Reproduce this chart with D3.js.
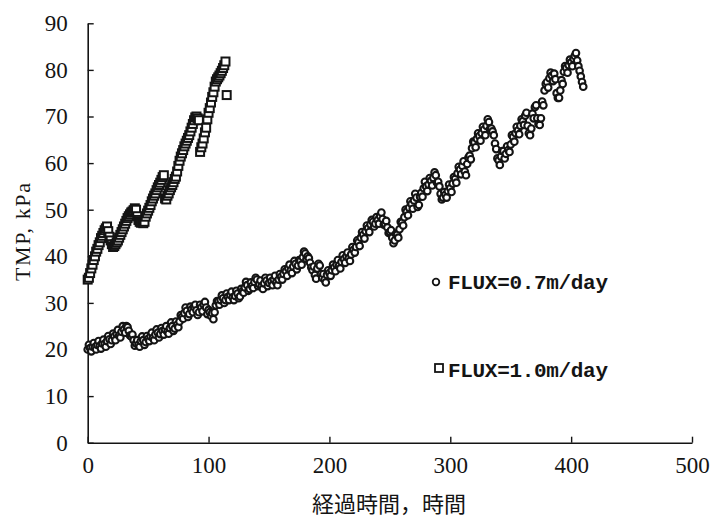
<!DOCTYPE html>
<html>
<head>
<meta charset="utf-8">
<script src="https://cdn.jsdelivr.net/npm/d3@7"></script>
<style>
  body { margin: 0; background: #fff; }
  svg { display: block; }
</style>
</head>
<body>
<div id="chart"></div>
<script>
// TMP (kPa), FLUX=0.7m/day
// even hours: t = 0, 2, 4 ... 410
const circleEvenTMP = [
  20.0, 20.3, 20.6, 20.5, 21.0, 20.8, 21.3, 21.2, 21.8, 22.2,
  22.0, 22.8, 23.3, 23.0, 23.8, 24.3, 25.0, 24.0, 22.8, 22.0,
  21.3, 21.0, 21.8, 22.0, 21.6, 22.3, 22.8, 22.5, 23.2, 23.6,
  23.3, 24.0, 24.3, 23.8, 24.6, 25.0, 24.5, 25.3, 26.0, 27.0,
  27.8, 28.3, 27.6, 28.6, 29.2, 28.4, 28.0, 29.0, 29.6, 29.0,
  28.5, 27.2, 26.5, 29.5, 30.3, 30.6, 31.0, 30.6, 31.3, 31.7,
  31.2, 31.5, 32.0, 31.4, 32.5, 33.3, 33.8, 33.0, 33.6, 34.5,
  35.0, 34.0, 33.6, 34.2, 34.8, 34.3, 34.6, 35.0, 34.4, 35.0,
  35.6, 36.2, 36.8, 37.4, 37.0, 37.8, 38.4, 38.0, 39.0, 39.8,
  40.6, 40.0, 38.6, 37.0, 36.0, 37.4, 38.0, 35.4, 35.0, 36.0,
  36.4, 37.0, 37.6, 38.2, 38.0, 38.8, 39.4, 40.0, 39.6, 40.4,
  41.4, 42.0, 43.0, 44.0, 44.6, 45.4, 46.0, 46.8, 47.4, 47.0,
  47.8, 48.6, 48.0, 47.0, 46.2, 45.2, 44.0, 43.4, 44.6, 45.8,
  47.2, 48.4, 49.6, 50.4, 51.2, 52.0, 52.6, 51.0, 53.6, 54.6,
  55.0, 55.4, 56.2, 56.8, 57.4, 56.0, 53.4, 52.6, 53.2, 54.0,
  54.6, 55.6, 56.6, 57.8, 58.6, 59.4, 58.2, 59.8, 61.6, 63.2,
  64.4, 65.2, 65.8, 66.4, 67.2, 68.0, 68.8, 67.4, 66.0, 63.0,
  60.6, 61.4, 62.6, 62.0, 62.8, 64.0, 65.6, 66.4, 67.0, 68.0,
  69.0, 70.2, 68.0, 66.0, 70.6, 72.0, 69.6, 68.2, 73.2, 75.6,
  77.4, 78.2, 78.8, 79.2, 75.0, 74.0, 77.8, 79.6, 80.4, 81.0,
  81.6, 82.4, 83.6, 80.8, 78.6, 76.4
];
// odd hours: t = 1, 3, 5 ... 409
const circleOddTMP = [
  21.0, 19.6, 21.4, 20.0, 21.8, 20.2, 22.1, 20.6, 22.9, 21.2,
  23.4, 22.0, 24.2, 22.6, 25.0, 23.6, 24.8, 23.0, 23.2, 20.8,
  22.0, 20.6, 22.8, 21.0, 22.9, 21.8, 23.6, 22.0, 24.3, 22.6,
  24.6, 23.2, 25.0, 23.4, 25.8, 24.0, 26.0, 24.8, 27.4, 26.6,
  29.0, 27.0, 29.2, 28.0, 29.6, 27.4, 29.6, 28.2, 30.2, 27.6,
  28.0, 27.8, 28.0, 30.4, 29.6, 31.6, 30.0, 32.0, 30.6, 32.4,
  30.6, 32.6, 31.0, 33.0, 32.2, 34.5, 32.6, 34.4, 33.2, 35.4,
  33.6, 34.8, 33.0, 35.4, 33.6, 35.4, 33.8, 35.8, 33.8, 36.2,
  35.0, 37.2, 35.8, 38.2, 36.4, 39.0, 37.2, 39.2, 38.2, 41.0,
  39.4, 39.6, 37.6, 37.8, 35.2, 38.4, 36.2, 36.2, 34.4, 37.0,
  35.8, 38.2, 36.8, 39.2, 37.4, 40.2, 38.6, 40.8, 39.0, 42.0,
  40.8, 43.4, 42.2, 45.2, 43.8, 46.6, 45.2, 47.8, 46.4, 48.4,
  47.0, 49.4, 46.8, 47.6, 45.0, 45.6, 42.8, 44.8, 44.0, 47.4,
  46.6, 50.0, 48.8, 51.8, 50.2, 53.4, 50.6, 52.8, 52.8, 56.0,
  54.0, 56.8, 55.2, 58.0, 55.8, 55.0, 52.2, 53.8, 52.6, 55.4,
  53.8, 57.0, 55.8, 59.2, 57.6, 60.4, 57.4, 61.2, 60.8, 64.6,
  63.4, 66.4, 64.8, 67.8, 66.0, 69.4, 67.4, 66.8, 64.2, 61.0,
  59.6, 62.6, 61.0, 63.6, 62.4, 66.0, 64.6, 67.8, 66.2, 69.4,
  68.2, 70.8, 66.4, 67.4, 69.6, 72.4, 68.4, 69.6, 72.4, 77.0,
  76.2, 79.4, 77.6, 78.0, 74.0, 75.6, 77.0, 80.8, 79.4, 82.2,
  80.8, 83.0, 82.0, 79.8, 77.4
];

// FLUX=1.0m/day, one reading every hour, t = 0 ... 115
const squareTMP = [
  35.0, 35.4, 36.4, 37.4, 38.2, 39.2, 40.0, 41.0, 41.6, 42.4,
  43.0, 43.9, 44.4, 45.0, 45.6, 46.0, 46.4, 45.4, 44.2, 43.4,
  42.6, 42.0, 42.2, 42.6, 43.0, 43.4, 44.0, 44.6, 45.2, 45.8,
  46.4, 47.0, 47.6, 48.2, 48.6, 49.0, 49.4, 49.6, 49.9, 50.3,
  50.0, 48.6, 47.8, 47.4, 47.2, 47.3, 47.1, 47.4, 48.5, 49.2,
  49.8, 50.4, 51.0, 51.8, 52.4, 53.0, 53.5, 54.2, 54.8, 55.3,
  55.8, 56.4, 57.0, 57.4, 52.4, 52.2, 53.0, 53.5, 54.2, 54.8,
  55.3, 55.9, 56.6, 57.1, 58.2, 59.4, 60.5, 61.4, 62.1, 62.8,
  63.6, 64.2, 64.8, 65.4, 66.0, 66.8, 67.6, 68.4, 69.2, 69.8,
  70.0, 69.6, 69.2, 62.4, 63.4, 64.2, 65.3, 66.6, 67.6, 69.4,
  70.8, 71.8, 73.0, 74.2, 75.2, 76.4, 77.5, 78.0, 78.4, 78.8,
  79.3, 79.8, 80.4, 81.0, 81.8, 74.6
];

const xTicks = [0, 100, 200, 300, 400, 500];
const yTicks = [0, 10, 20, 30, 40, 50, 60, 70, 80, 90];
const legendLabels = ['FLUX=0.7m/day', 'FLUX=1.0m/day'];

const width = 721, height = 520;
const ink = '#141414';

let x = d3.scaleLinear().domain([0, 500]).range([87.7, 692]);
let y = d3.scaleLinear().domain([0, 90]).range([442.7, 23.3]);

let svg = d3.select('#chart').append('svg')
    .attr('width', width)
    .attr('height', height);

let circles = circleEvenTMP.map((v, i) => ({ t: i * 2, v: v }))
    .concat(circleOddTMP.map((v, i) => ({ t: i * 2 + 1, v: v })));
circles.sort((a, b) => a.t - b.t);
const squares = squareTMP.map((v, i) => ({ t: i, v: v }));

// axes, ticks pointing inward
let xAxis = svg.append('g')
    .attr('transform', `translate(0,${y(0)})`)
    .call(d3.axisBottom(x).tickValues(xTicks).tickSizeInner(-6).tickSizeOuter(0).tickPadding(14));
let yAxis = svg.append('g')
    .attr('transform', `translate(${x(0)},0)`)
    .call(d3.axisLeft(y).tickValues(yTicks).tickSizeInner(-6).tickSizeOuter(0).tickPadding(20));

svg.selectAll('.domain').attr('stroke', ink).attr('stroke-width', 1.6);
svg.selectAll('.tick line').attr('stroke', ink).attr('stroke-width', 1.4);
svg.selectAll('.tick text')
    .attr('fill', ink)
    .style('font-family', '"Liberation Serif", "DejaVu Serif", serif')
    .style('font-size', '23px');
xAxis.selectAll('.tick text').attr('dy', '0.71em');

// data
svg.append('g').selectAll('circle')
    .data(circles)
    .enter()
    .append('circle')
    .attr('cx', d => x(d.t))
    .attr('cy', d => y(d.v))
    .attr('r', 3.3)
    .attr('fill', '#fff')
    .attr('stroke', ink)
    .attr('stroke-width', 2.1);

svg.append('g').selectAll('rect')
    .data(squares)
    .enter()
    .append('rect')
    .attr('x', d => x(d.t) - 4)
    .attr('y', d => y(d.v) - 4)
    .attr('width', 8)
    .attr('height', 8)
    .attr('fill', '#fff')
    .attr('stroke', ink)
    .attr('stroke-width', 2);

// axis titles
svg.append('text')
    .attr('x', 389)
    .attr('y', 512)
    .attr('text-anchor', 'middle')
    .attr('fill', ink)
    .style('font-family', '"Noto Sans CJK JP", sans-serif')
    .style('font-size', '22px')
    .text('経過時間，時間');

svg.append('text')
    .attr('transform', 'translate(30,232) rotate(-90)')
    .attr('text-anchor', 'middle')
    .attr('fill', ink)
    .attr('textLength', 98)
    .attr('lengthAdjust', 'spacing')
    .style('font-family', '"Liberation Serif", serif')
    .style('font-size', '22px')
    .text('TMP, kPa');

// legend
let legend = svg.append('g');
legend.append('circle')
    .attr('cx', 436).attr('cy', 282).attr('r', 3.3)
    .attr('fill', '#fff').attr('stroke', ink).attr('stroke-width', 1.8);
legend.append('rect')
    .attr('x', 435).attr('y', 364).attr('width', 8).attr('height', 8)
    .attr('fill', '#fff').attr('stroke', ink).attr('stroke-width', 1.8);

legend.selectAll('text')
    .data(legendLabels)
    .enter()
    .append('text')
    .attr('x', 448)
    .attr('y', (d, i) => i === 0 ? 289 : 377)
    .attr('textLength', 160)
    .attr('fill', ink)
    .style('font-family', '"Liberation Mono", monospace')
    .style('font-weight', 'bold')
    .style('font-size', '21px')
    .text(d => d);
</script>
</body>
</html>
